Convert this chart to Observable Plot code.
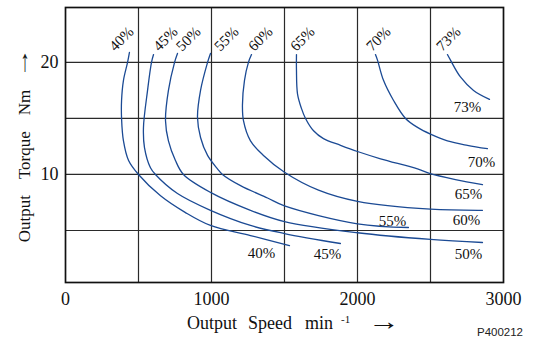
<!DOCTYPE html>
<html>
<head>
<meta charset="utf-8">
<script src="https://cdn.jsdelivr.net/npm/d3@7"></script>
<script src="https://cdn.jsdelivr.net/npm/@observablehq/plot@0.6"></script>
<style>
  html, body { margin: 0; padding: 0; background: #fff; }
  #chart svg { display: block; }
  #chart svg text, #chart svg tspan { font-family: "Liberation Serif", "DejaVu Serif", serif; }
  #chart svg text.code { font-family: "Liberation Sans", "DejaVu Sans", sans-serif; }
</style>
</head>
<body>
<div id="chart"></div>
<script>
// ---- data (speed in min^-1, torque in Nm) ----
const curve40 = [[438,20.9],[425,20.0],[397,18.4],[384,16.6],[384,15.0],[397,13.0],[432,11.25],[500,10.0],[651,8.1],[822,6.6],[993,5.45],[1267,4.55],[1534,3.66]];
const curve45 = [[603,20.7],[589,20.0],[562,17.5],[534,14.2],[541,12.4],[582,10.6],[616,10.0],[767,8.3],[993,6.8],[1267,5.45],[1500,4.73],[1883,3.84]];
const curve50 = [[767,20.8],[747,20.0],[705,17.5],[685,14.8],[705,13.0],[753,11.25],[808,10.0],[993,8.4],[1267,6.8],[1500,5.8],[2000,4.8],[2500,4.2],[2856,3.93]];
const curve55 = [[993,20.8],[973,20.0],[925,17.5],[904,15.1],[925,13.3],[973,11.7],[1041,10.5],[1075,10.0],[1199,9.0],[1384,7.9],[1500,7.2],[2000,5.6],[2349,5.27]];
const curve60 = [[1274,20.7],[1253,20.0],[1226,18.4],[1212,16.2],[1219,14.8],[1267,13.0],[1356,11.7],[1500,10.2],[1733,8.6],[2000,7.6],[2500,6.9],[2856,6.8]];
const curve65 = [[1582,20.7],[1582,19.3],[1589,17.2],[1616,15.9],[1644,15.0],[1699,13.9],[1767,13.2],[1884,12.6],[2000,12.05],[2158,11.4],[2411,10.5],[2493,10.1],[2671,9.55],[2856,9.1]];
const curve70 = [[2123,20.7],[2137,20.2],[2178,18.4],[2247,16.6],[2329,15.0],[2411,14.2],[2500,13.6],[2616,13.0],[2753,12.6],[2890,12.3]];
const curve73 = [[2616,20.7],[2637,20.2],[2705,18.7],[2795,17.5],[2904,16.7]];

const efficiencies = ["40%","45%","50%","55%","60%","65%","70%","73%"];
const curves = [curve40, curve45, curve50, curve55, curve60, curve65, curve70, curve73];

// label anchor points (data units)
const topLabelSpeed = [384, 685, 842, 1103, 1336, 1623, 2144, 2623];
const topLabelTorque = [22.1, 22.1, 22.1, 22.1, 22.1, 22.1, 22.1, 22.1];
const endLabelSpeed = [1342, 1794, 2760, 2240, 2746, 2760, 2849, 2753];
const endLabelTorque = [3.0, 2.9, 2.9, 5.85, 5.9, 8.2, 11.1, 16.0];

const speedTicks = [0, 1000, 2000, 3000];
const torqueTicks = [10, 20];
const speedGrid = [500, 1000, 1500, 2000, 2500];
const torqueGrid = [5, 10, 15, 20];

// ---- build tables ----
const rows = curves.flatMap((c, i) => c.map(([s, t]) => ({eff: efficiencies[i], speed: s, torque: t})));
const topLabels = efficiencies.map((e, i) => ({text: e, speed: topLabelSpeed[i], torque: topLabelTorque[i]}));
const endLabels = efficiencies.map((e, i) => ({text: e, speed: endLabelSpeed[i], torque: endLabelTorque[i]}));

const W = 543, H = 338;
const serif = "Liberation Serif, DejaVu Serif, serif";

const chart = Plot.plot({
  width: W,
  height: H,
  marginLeft: 65,
  marginRight: 40,
  marginTop: 7,
  marginBottom: 56,
  style: {fontFamily: serif, color: "#111", background: "#fff", overflow: "visible"},
  x: {domain: [0, 3000]},
  y: {domain: [0.36, 24.9]},
  marks: [
    Plot.gridX(speedGrid, {stroke: "#2a2a2a", strokeOpacity: 1, strokeWidth: 1.2}),
    Plot.gridY(torqueGrid, {stroke: "#2a2a2a", strokeOpacity: 1, strokeWidth: 1.2}),
    Plot.frame({stroke: "#111", strokeWidth: 1.7}),
    Plot.line(rows, {x: "speed", y: "torque", z: "eff", stroke: "#1b4a94", strokeWidth: 1.3, curve: "catmull-rom"}),
    Plot.text(topLabels, {x: "speed", y: "torque", text: "text", rotate: -45, fontSize: 15, fill: "#111"}),
    Plot.text(endLabels, {x: "speed", y: "torque", text: "text", fontSize: 15, fill: "#111"}),
    Plot.axisX({ticks: speedTicks, tickSize: 0, tickPadding: 10, fontSize: 18, label: null, tickFormat: d => String(d)}),
    Plot.axisY({ticks: torqueTicks, tickSize: 0, tickPadding: 7, fontSize: 18, label: null, tickFormat: d => String(d)})
  ]
});

document.getElementById("chart").appendChild(chart);

// ---- axis titles and annotations ----
const svg = d3.select(chart);

// up arrow before "20" (stretched vertically)
svg.append("text")
  .attr("transform", "translate(25,71) scale(1,1.7)")
  .attr("text-anchor", "middle")
  .attr("font-size", 18).attr("fill", "#111")
  .text("\u2191");

// y title
const yt = svg.append("text")
  .attr("transform", "translate(30,166) rotate(-90)")
  .attr("text-anchor", "middle")
  .attr("font-size", 17).attr("fill", "#111");
yt.append("tspan").text("Output");
yt.append("tspan").attr("dx", 16).text("Torque");
yt.append("tspan").attr("dx", 16).text("Nm");

// x title
const xt = svg.append("text")
  .attr("x", 187).attr("y", 329)
  .attr("text-anchor", "start")
  .attr("font-size", 18).attr("fill", "#111");
xt.append("tspan").text("Output");
xt.append("tspan").attr("dx", 11).text("Speed");
xt.append("tspan").attr("dx", 13).text("min");
xt.append("tspan").attr("dx", 8).attr("dy", -6).attr("font-size", 11).text("-1");

// right arrow after the x title (stretched horizontally)
svg.append("text")
  .attr("transform", "translate(368,330) scale(1.45,1.15)")
  .attr("text-anchor", "start")
  .attr("font-size", 22).attr("fill", "#111")
  .text("\u2192");

// reference code
svg.append("text")
  .attr("class", "code")
  .attr("x", 500).attr("y", 336)
  .attr("text-anchor", "middle")
  .attr("font-size", 11.5).attr("fill", "#222")
  .text("P400212");
</script>
</body>
</html>
